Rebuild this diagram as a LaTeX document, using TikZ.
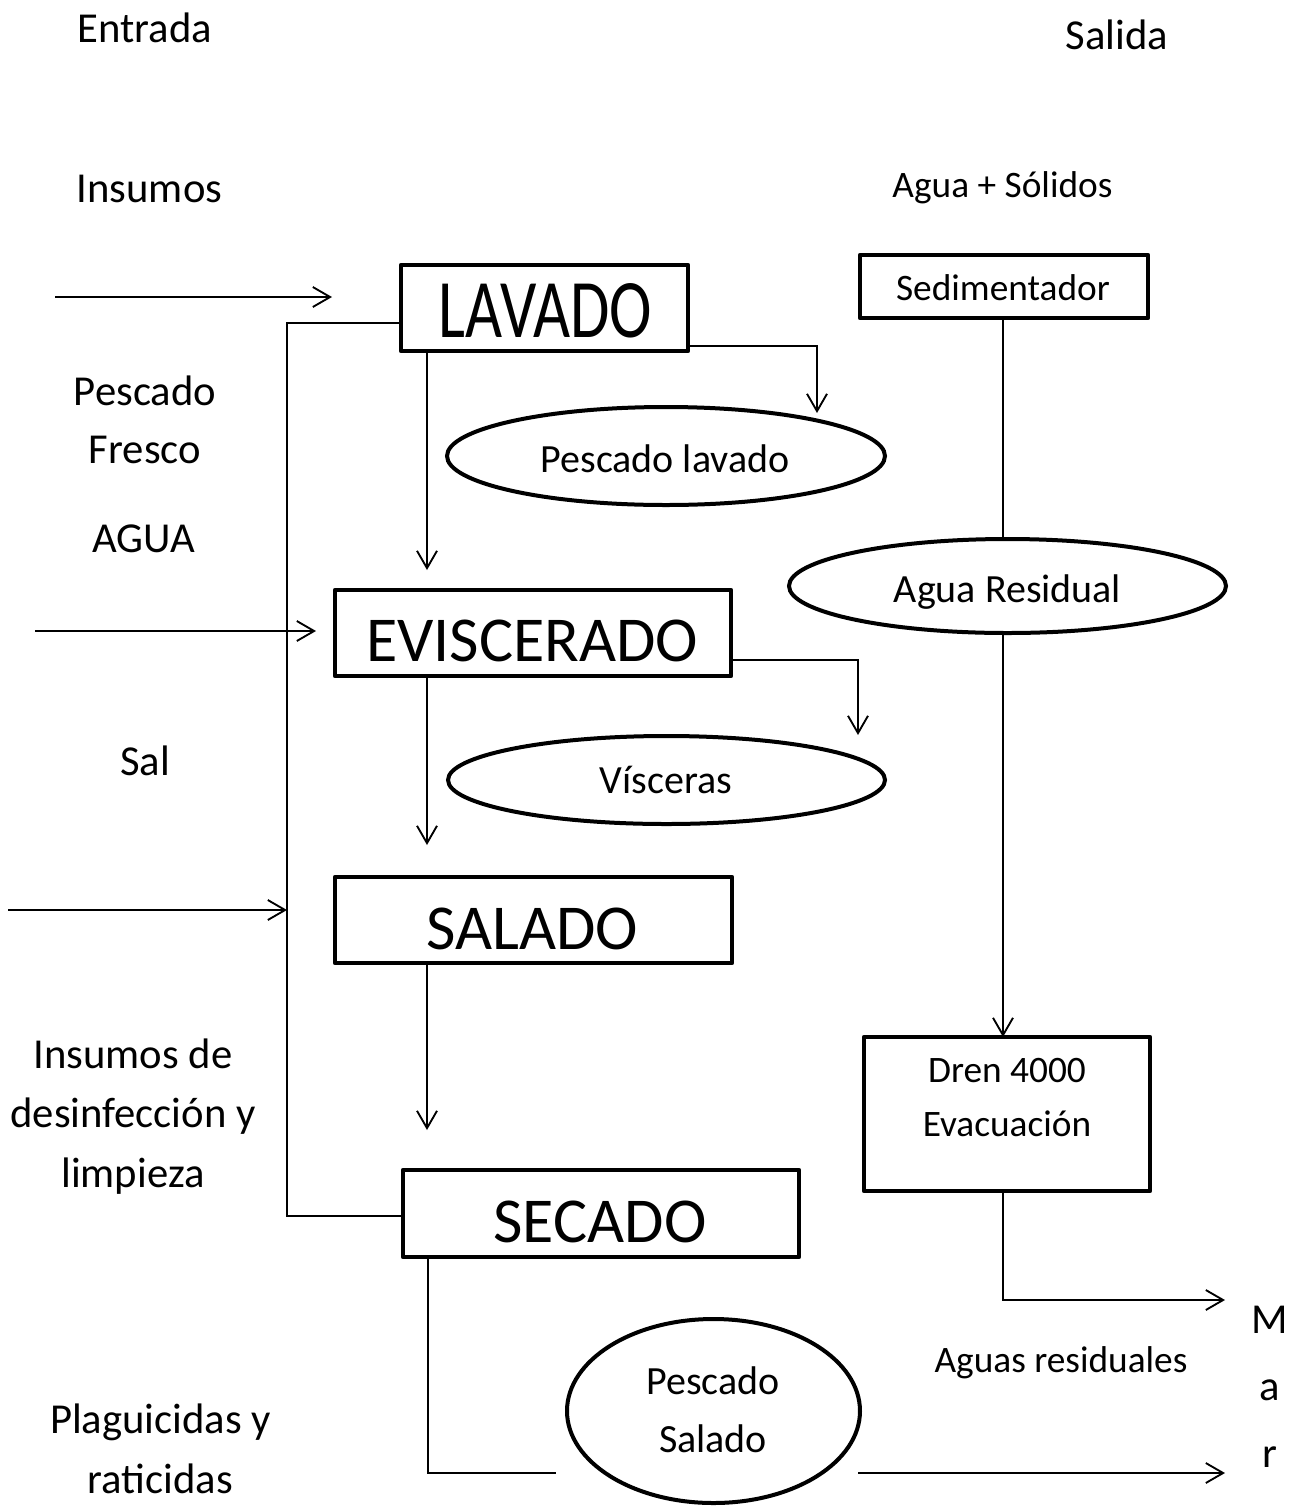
\documentclass[tikz,border=0pt]{standalone}
\usepackage{fontspec}
\setmainfont{Carlito}
\usetikzlibrary{arrows.meta,shapes.geometric,fit}
\begin{document}
\begin{tikzpicture}[x=0.75pt,y=-0.75pt,
  box/.style={draw, rectangle, line width=3.6pt, line join=round, inner sep=0pt, outer sep=0pt},
  ell/.style={draw, ellipse, line width=3pt, inner sep=0pt, outer sep=0pt},
  ln/.style={line width=1.4pt},
  arr/.style={ln, -{Straight Barb[length=13pt,width=15pt]}},
  lbl/.style={inner sep=0pt, anchor=base, align=center, font=\fontsize{32}{44.6}\selectfont},
  mid/.style={inner sep=0pt, anchor=base, align=center, font=\fontsize{30}{42.8}\selectfont},
  sml/.style={inner sep=0pt, anchor=base, align=center, font=\fontsize{28}{39.8}\selectfont},
  big/.style={inner sep=0pt, anchor=center, font=\fontsize{48}{58}\selectfont}
]
\useasboundingbox (0,0) rectangle (1293,1511);

% process boxes
\node[box, fit={(401,265)(688,351)}] (lav) {};
\node[box, fit={(335,590)(731,676)}] (evi) {};
\node[box, fit={(335,877)(732,963)}] (sal) {};
\node[box, fit={(403,1170)(799,1257)}] (sec) {};
\node[box, fit={(860,255)(1148,318)}] (sed) {};
\node[box, fit={(864,1037)(1150,1191)}] (dren) {};

\node[big] (lavT) at (545.5,311) {\scalebox{1}[1.3]{LAVADO}};
\node[big] (eviT) at (532,641) {EVISCERADO};
\node[big] (salT) at (532,929) {SALADO};
\node[big] (secT) at (600,1222) {SECADO};
\node[sml] (sedT) at (1003,300) {Sedimentador};
\node[sml, font=\fontsize{28}{39.8}\selectfont] (drenT) at (1007,1136) {Dren 4000\\Evacuación};

% ellipses
\node[ell, minimum width=438*0.75pt, minimum height=98*0.75pt] (plav) at (666,456) {};
\node[ell, minimum width=437*0.75pt, minimum height=94*0.75pt] (agr) at (1007.5,586) {};
\node[ell, minimum width=437*0.75pt, minimum height=88*0.75pt] (vis) at (666.5,780) {};
\node[ell, minimum width=293*0.75pt, minimum height=184*0.75pt] (psal) at (713.5,1411) {};

\node[mid] (plavT) at (665,472) {Pescado lavado};
\node[mid] (agrT) at (1007.5,602) {Agua Residual};
\node[mid] (visT) at (666,793) {Vísceras};
\node[mid] (psalT) at (713,1452) {Pescado\\Salado};

% side labels
\node[lbl] (entrada) at (145,42) {Entrada};
\node[lbl] (salida) at (1117,49) {Salida};
\node[lbl] (insumos) at (149.5,202) {Insumos};
\node[sml] (aguasol) at (1002.5,197) {Agua + Sólidos};
\node[lbl, font=\fontsize{32}{43.5}\selectfont] (pfresco) at (145,463) {Pescado\\Fresco};
\node[lbl] (agua) at (143.5,552) {AGUA};
\node[lbl] (sall) at (145,775) {Sal};
\node[lbl] (desinf) at (133,1187) {Insumos de\\desinfección y\\limpieza};
\node[lbl, font=\fontsize{32}{45}\selectfont] (plag) at (160.5,1493) {Plaguicidas y\\raticidas};
\node[sml] (aguasres) at (1061,1372) {Aguas residuales};
\node[lbl, font=\fontsize{32}{50}\selectfont] (mar) at (1270,1467) {M\\a\\r};

% free ends
\coordinate (in1a) at (55,297);   \coordinate (in1b) at (332,297);
\coordinate (in2a) at (35,631);   \coordinate (in2b) at (316,631);
\coordinate (in3a) at (8,910);
\coordinate (busT) at (287,323);  \coordinate (busB) at (287,1216);
\coordinate (dnx) at (427,0);
\coordinate (t1) at (427,570);
\coordinate (t2) at (427,845);
\coordinate (t3) at (427,1130);
\coordinate (r1y) at (0,346);     \coordinate (r1) at (817,413);
\coordinate (r2y) at (0,660);     \coordinate (r2) at (858,735);
\coordinate (sx) at (428,0);      \coordinate (s1) at (556,1473);
\coordinate (p1) at (858,1473);   \coordinate (p2) at (1225,1473);
\coordinate (wx) at (1003,0);     \coordinate (m1) at (1225,1300);

% inputs
\draw[arr] (in1a) -- (in1b);
\draw[arr] (in2a) -- (in2b);
\draw[arr] (in3a) -- (in3a -| busT);
\draw[ln] (lav.west |- busT) -- (busT) -- (busB) -- (sec.west |- busB);

% main flow
\draw[arr] (dnx |- lav.south) -- (t1);
\draw[arr] (dnx |- evi.south) -- (t2);
\draw[arr] (dnx |- sal.south) -- (t3);
\draw[arr] (lav.east |- r1y) -| (r1);
\draw[arr] (evi.east |- r2y) -| (r2);
\draw[ln] (sx |- sec.south) |- (s1);
\draw[arr] (p1) -- (p2);

% water line
\draw[ln] (wx |- sed.south) -- (wx |- agr.north);
\draw[arr] (wx |- agr.south) -- (wx |- dren.north);
\draw[arr] (wx |- dren.south) |- (m1);
\end{tikzpicture}
\end{document}
